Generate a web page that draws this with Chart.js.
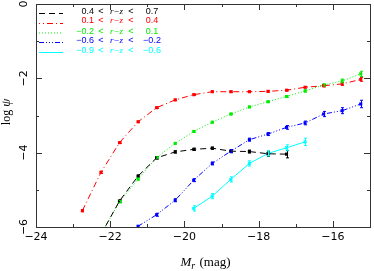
<!DOCTYPE html>
<html>
<head>
<meta charset="UTF-8">
<title>log psi vs M_r</title>
<script src="https://cdn.jsdelivr.net/npm/chart.js"></script>
<style>
  html, body { margin: 0; padding: 0; background: #fff; }
  #wrap { width: 374px; height: 271px; }
</style>
</head>
<body>
<div id="wrap"><canvas id="chart" width="374" height="271"></canvas></div>
<script>
// magnitude bins (M_r)
var magBins = [-22.75, -22.25, -21.75, -21.25, -20.75, -20.25, -19.75, -19.25,
               -18.75, -18.25, -17.75, -17.25, -16.75, -16.25, -15.75, -15.25];

// log psi per colour bin (null = no point)
var blackVals = [null, -6.2, -5.30, -4.63, -4.14, -3.98, -3.91, -3.88, -3.96, -3.97, -4.03, -4.04, null, null, null, null];
var redVals   = [-5.56, -4.53, -3.73, -3.17, -2.79, -2.58, -2.44, -2.36, -2.36, -2.36, -2.35, -2.32, -2.24, -2.20, -2.15, -2.03];
var greenVals = [null, -6.2, -5.32, -4.71, -4.13, -3.75, -3.43, -3.18, -2.96, -2.77, -2.63, -2.49, -2.34, -2.18, -2.07, -1.88];
var blueVals  = [null, null, null, -5.98, -5.67, -5.28, -4.74, -4.29, -3.96, -3.65, -3.50, -3.32, -3.20, -2.96, -2.87, -2.69];
var cyanVals  = [null, null, null, null, null, null, -5.50, -5.17, -4.72, -4.29, -4.02, -3.87, -3.71, null, null, null];

// error bars
var blackErr = [0, 0, 0.03, 0.03, 0.03, 0.03, 0.03, 0.03, 0.04, 0.04, 0.07, 0.10, 0, 0, 0, 0];
var redErr   = [0.03, 0.03, 0.02, 0.02, 0.02, 0.02, 0.02, 0.02, 0.02, 0.02, 0.02, 0.02, 0.02, 0.03, 0.04, 0.05];
var greenErr = [0, 0, 0.03, 0.03, 0.02, 0.02, 0.02, 0.02, 0.02, 0.02, 0.02, 0.02, 0.03, 0.03, 0.05, 0.07];
var blueErr  = [0, 0, 0, 0.04, 0.04, 0.04, 0.04, 0.04, 0.04, 0.04, 0.04, 0.05, 0.05, 0.07, 0.08, 0.10];
var cyanErr  = [0, 0, 0, 0, 0, 0, 0.07, 0.07, 0.07, 0.07, 0.07, 0.08, 0.10, 0, 0, 0];

var lowerBounds = ['0.4', '0.1', '\u22120.2', '\u22120.6', '\u22120.9'];
var upperBounds = ['0.7', '0.4', '0.1', '\u22120.2', '\u22120.6'];
var colors = ['#000000', '#ff0000', '#00ee00', '#0000ff', '#00ffff'];
var dashes = [[6, 4], [6, 3, 1, 3], [1, 2], [5, 2, 1, 2, 1, 2, 1, 2], []];

var xTicks = [-24, -22, -20, -18, -16];
var yTicks = [-6, -4, -2, 0];

function toPoints(vals, errs) {
    var pts = [];
    for (var i = 0; i < magBins.length; i++) {
        if (vals[i] !== null) pts.push({ x: magBins[i], y: vals[i], err: errs[i] });
    }
    return pts;
}

var seriesVals = [blackVals, redVals, greenVals, blueVals, cyanVals];
var seriesErr = [blackErr, redErr, greenErr, blueErr, cyanErr];

var datasets = seriesVals.map(function (vals, i) {
    return {
        label: lowerBounds[i] + ' < r-z < ' + upperBounds[i],
        data: toPoints(vals, seriesErr[i]),
        showLine: true,
        borderColor: colors[i],
        backgroundColor: colors[i],
        borderWidth: 1,
        borderDash: dashes[i],
        pointStyle: 'rect',
        pointRadius: 2.2,
        pointBorderWidth: 0,
        tension: 0,
        clip: 1
    };
});

function minus(v) {
    return v < 0 ? '\u2212' + Math.abs(v) : String(v);
}

// frame, inward ticks, error bars, legend and axis titles
var decorPlugin = {
    id: 'decor',
    afterDatasetsDraw: function (chart) {
        var ctx = chart.ctx;
        var xs = chart.scales.x, ys = chart.scales.y;
        chart.data.datasets.forEach(function (ds) {
            ctx.save();
            ctx.strokeStyle = ds.borderColor;
            ctx.lineWidth = 1;
            ds.data.forEach(function (p) {
                if (!p.err) return;
                var px = Math.round(xs.getPixelForValue(p.x)) + 0.5;
                var y1 = ys.getPixelForValue(p.y + p.err);
                var y2 = ys.getPixelForValue(p.y - p.err);
                if (y2 > ys.bottom) return;
                ctx.beginPath();
                ctx.moveTo(px, y1); ctx.lineTo(px, y2);
                ctx.moveTo(px - 1.5, y1); ctx.lineTo(px + 1.5, y1);
                ctx.moveTo(px - 1.5, y2); ctx.lineTo(px + 1.5, y2);
                ctx.stroke();
            });
            ctx.restore();
        });
    },
    afterDraw: function (chart) {
        var ctx = chart.ctx;
        var a = chart.chartArea;
        var xs = chart.scales.x, ys = chart.scales.y;
        ctx.save();
        ctx.strokeStyle = '#333';
        ctx.lineWidth = 1;
        ctx.strokeRect(Math.round(a.left) + 0.5, Math.round(a.top) + 0.5,
            Math.round(a.right - a.left), Math.round(a.bottom - a.top));
        ctx.beginPath();
        xs.ticks.forEach(function (t) {
            var px = Math.round(xs.getPixelForValue(t.value)) + 0.5;
            var len = t.value % 2 === 0 ? 6 : 3;
            ctx.moveTo(px, a.bottom); ctx.lineTo(px, a.bottom - len);
            ctx.moveTo(px, a.top); ctx.lineTo(px, a.top + len);
        });
        ys.ticks.forEach(function (t) {
            var py = Math.round(ys.getPixelForValue(t.value)) + 0.5;
            var len = t.value % 2 === 0 ? 6 : 3;
            ctx.moveTo(a.left, py); ctx.lineTo(a.left + len, py);
            ctx.moveTo(a.right, py); ctx.lineTo(a.right - len, py);
        });
        ctx.stroke();

        // rotated y tick labels
        ctx.fillStyle = '#000';
        ctx.font = '11px "DejaVu Sans"';
        ctx.textAlign = 'center';
        ctx.textBaseline = 'middle';
        yTicks.forEach(function (v) {
            var py = ys.getPixelForValue(v);
            ctx.save();
            ctx.translate(24, py);
            ctx.rotate(-Math.PI / 2);
            ctx.fillText(minus(v), 0, 0);
            ctx.restore();
        });

        // y title
        ctx.save();
        ctx.translate(7, 112);
        ctx.rotate(-Math.PI / 2);
        ctx.font = '12px "Liberation Serif"';
        ctx.textAlign = 'left';
        var w1 = ctx.measureText('log ').width;
        ctx.font = 'italic 13px "Liberation Serif"';
        var w2 = ctx.measureText('\u03c8').width;
        var start = -(w1 + w2) / 2;
        ctx.font = '12px "Liberation Serif"';
        ctx.fillText('log ', start, 0);
        ctx.font = 'italic 13px "Liberation Serif"';
        ctx.fillText('\u03c8', start + w1, 0);
        ctx.restore();

        // x title: M_r (mag)
        ctx.textBaseline = 'alphabetic';
        ctx.textAlign = 'left';
        var cx = 205, by = 266;
        ctx.font = 'italic 13px "Liberation Serif"';
        var mW = ctx.measureText('M').width;
        ctx.font = 'italic 10px "Liberation Serif"';
        var rW = ctx.measureText('r').width;
        ctx.font = '13px "Liberation Serif"';
        var restW = ctx.measureText(' (mag)').width;
        var x0 = cx - (mW + rW + restW) / 2;
        ctx.font = 'italic 13px "Liberation Serif"';
        ctx.fillText('M', x0, by);
        ctx.font = 'italic 10px "Liberation Serif"';
        ctx.fillText('r', x0 + mW, by + 3);
        ctx.font = '13px "Liberation Serif"';
        ctx.fillText(' (mag)', x0 + mW + rW + 1, by);

        // legend
        var textRows = [11.5, 21, 31.5, 41, 50.5];
        var lineRows = [13, 23, 32.5, 42, 52];
        var dashOffsets = [0, 5, 0, 0, 0];
        ctx.textBaseline = 'middle';
        textRows.forEach(function (ry, i) {
            ctx.save();
            ctx.strokeStyle = colors[i];
            ctx.lineWidth = 1;
            ctx.setLineDash(dashes[i]);
            ctx.lineDashOffset = dashOffsets[i];
            ctx.beginPath();
            ctx.moveTo(39, lineRows[i] + 0.5); ctx.lineTo(63, lineRows[i] + 0.5);
            ctx.stroke();
            ctx.restore();
            ctx.fillStyle = colors[i];
            ctx.font = '9px "Liberation Sans"';
            ctx.textAlign = 'right';
            ctx.fillText(lowerBounds[i], 94, ry);
            ctx.textAlign = 'center';
            ctx.fillText('<', 101, ry);
            ctx.fillText('<', 131, ry);
            ctx.fillText(upperBounds[i], 152, ry);
            ctx.font = 'italic 9px "Liberation Serif"';
            ctx.fillText('r\u2212z', 116.5, ry);
        });
        ctx.restore();
    }
};

new Chart(document.getElementById('chart'), {
    type: 'scatter',
    data: { datasets: datasets },
    options: {
        responsive: false,
        animation: false,
        devicePixelRatio: 1,
        layout: { padding: { top: 3, right: 3, left: 0, bottom: 0 } },
        plugins: { legend: { display: false }, tooltip: { enabled: false } },
        scales: {
            x: {
                type: 'linear',
                min: -24,
                max: -15,
                grid: { display: false, drawTicks: false },
                border: { display: false },
                ticks: {
                    stepSize: 1,
                    padding: 4,
                    color: '#000',
                    font: { family: 'DejaVu Sans', size: 11 },
                    autoSkip: false,
                    maxRotation: 0,
                    callback: function (v) { return xTicks.indexOf(v) >= 0 ? minus(v) : ''; }
                },
                afterFit: function (s) { s.height = 44; }
            },
            y: {
                type: 'linear',
                min: -6,
                max: 0,
                grid: { display: false, drawTicks: false },
                border: { display: false },
                ticks: { stepSize: 1, display: false },
                afterFit: function (s) { s.width = 36; }
            }
        }
    },
    plugins: [decorPlugin]
});
</script>
</body>
</html>
